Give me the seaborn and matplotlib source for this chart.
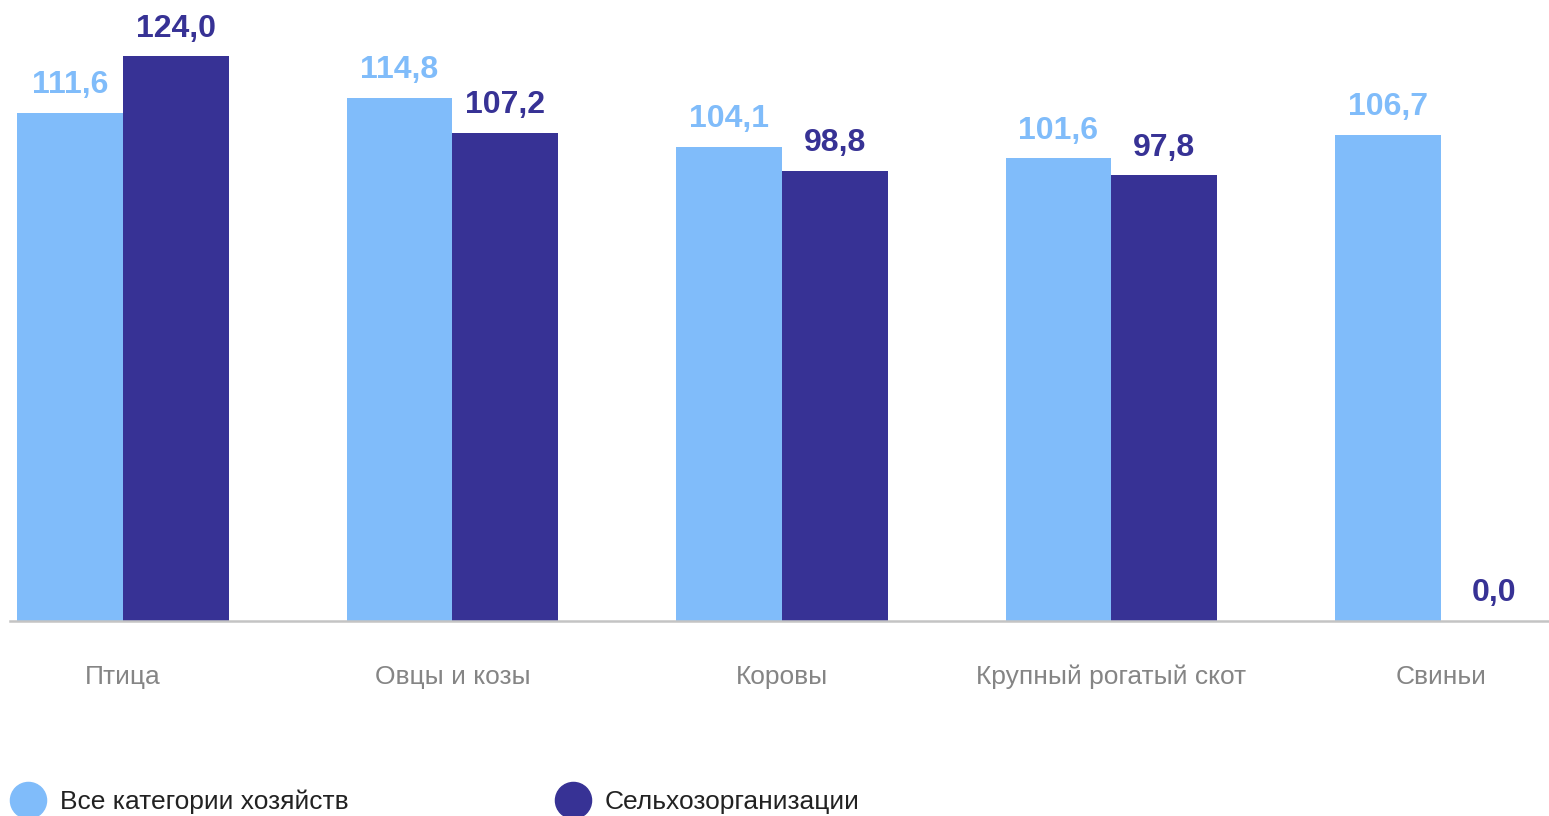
import pandas as pd
import matplotlib
matplotlib.use("Agg")
import matplotlib.pyplot as plt
from matplotlib.lines import Line2D
import seaborn as sns

# data
categories = ["Птица", "Овцы и козы", "Коровы", "Крупный рогатый скот", "Свиньи"]
series_names = ["Все категории хозяйств", "Сельхозорганизации"]
all_farms = [111.6, 114.8, 104.1, 101.6, 106.7]
agri_orgs = [124.0, 107.2, 98.8, 97.8, 0.0]

colors = ["#80BCFA", "#373295"]

df = pd.DataFrame({
    "category": categories * 2,
    "series": [series_names[0]] * 5 + [series_names[1]] * 5,
    "value": all_farms + agri_orgs,
})

sns.set_theme(style="white")
plt.rcParams["font.family"] = ["Liberation Sans", "DejaVu Sans"]

fig = plt.figure(figsize=(15.49, 8.16), dpi=100)
ax = fig.add_axes([10 / 1549, (816 - 621) / 816, 1539 / 1549, 621 / 816])

sns.barplot(data=df, x="category", y="value", hue="series", order=categories,
            hue_order=series_names, palette=colors, width=0.643, saturation=1,
            linewidth=0, legend=False, ax=ax)

for cont, col in zip(ax.containers, colors):
    labels = [f"{v:.1f}".replace(".", ",") for v in cont.datavalues]
    ax.bar_label(cont, labels=labels, padding=9, color=col, fontsize=23,
                 fontweight="bold")

ax.set_xlim(-0.343, 4.328)
ax.set_ylim(0, 136.3)
ax.set_xlabel("")
ax.set_ylabel("")
ax.set_yticks([])
for s in ["top", "left", "right"]:
    ax.spines[s].set_visible(False)
ax.spines["bottom"].set_color("#c4c4c4")
ax.spines["bottom"].set_linewidth(1.8)
ax.tick_params(axis="x", length=0, pad=31.5, labelsize=19, labelcolor="#858585")

handles = [Line2D([0], [0], marker="o", linestyle="", markersize=26,
                  markerfacecolor=c, markeredgecolor=c) for c in colors]
fig.legend(handles, series_names, loc="center left",
           bbox_to_anchor=(8 / 1549, 14 / 816), ncol=2, frameon=False,
           fontsize=19, labelcolor="#222222", handlelength=1.5,
           handletextpad=0.47, columnspacing=7.75, borderpad=0,
           borderaxespad=0)

fig.savefig("out.png", dpi=100)
